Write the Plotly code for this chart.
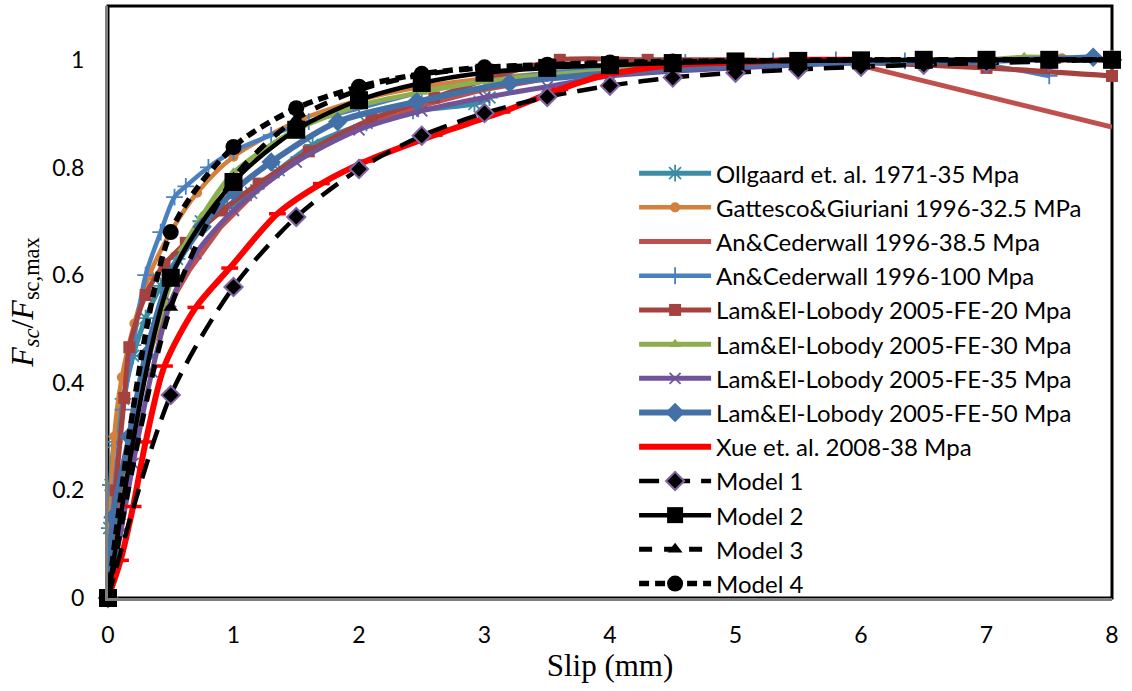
import plotly.graph_objects as go

# ---- experimental push-out curves: slip (mm) vs normalised shear force ----
ollgaard_s = [0, 0.01, 0.02, 0.05, 0.12, 0.2, 0.3, 0.42, 0.55, 0.74, 0.95, 1.14, 1.36, 1.63, 2.06, 2.43, 2.92, 3.04]
ollgaard_v = [0, 0.13, 0.21, 0.29, 0.37, 0.45, 0.52, 0.58, 0.63, 0.70, 0.725, 0.753, 0.795, 0.842, 0.883, 0.905, 0.918, 0.93]

gattesco_s = [0, 0.05, 0.11, 0.21, 0.33, 0.5, 0.71, 1.0, 1.5, 2.0, 2.5, 3.0, 3.5, 4.0, 5.0, 6.0, 7.0, 7.6, 8.0]
gattesco_v = [0, 0.30, 0.41, 0.51, 0.60, 0.68, 0.753, 0.82, 0.885, 0.925, 0.95, 0.965, 0.975, 0.985, 0.993, 0.997, 1.0, 1.003, 1.0]

an385_s = [0, 0.1, 0.2, 0.35, 0.5, 0.65, 0.9, 1.2, 1.6, 2.0, 2.5, 3.0, 3.5, 4.0, 4.5, 5.0, 5.5, 5.85, 8.0]
an385_v = [0, 0.20, 0.35, 0.47, 0.55, 0.61, 0.69, 0.76, 0.83, 0.875, 0.915, 0.945, 0.965, 0.98, 0.99, 0.995, 0.998, 0.998, 0.875]

an100_s = [0, 0.05, 0.12, 0.2, 0.3, 0.42, 0.53, 0.62, 0.8, 1.0, 1.3, 1.6, 2.0, 2.5, 3.0, 3.5, 4.0, 4.6, 5.3, 5.8, 6.35, 7.0, 7.5]
an100_v = [0, 0.20, 0.35, 0.47, 0.60, 0.68, 0.745, 0.765, 0.80, 0.83, 0.86, 0.885, 0.91, 0.94, 0.96, 0.975, 0.985, 0.995, 0.998, 1.0, 0.998, 0.99, 0.97]

lam20_s = [0, 0.06, 0.13, 0.17, 0.3, 0.45, 0.62, 0.91, 1.2, 1.6, 2.1, 2.6, 3.1, 3.6, 4.3, 5.0, 6.0, 7.0, 8.0]
lam20_v = [0, 0.20, 0.372, 0.466, 0.563, 0.62, 0.66, 0.72, 0.77, 0.83, 0.89, 0.93, 0.97, 1.0, 1.0, 1.0, 0.995, 0.985, 0.97]

lam30_s = [0, 0.1, 0.2, 0.3, 0.45, 0.6, 0.75, 1.0, 1.5, 2.0, 2.5, 3.0, 4.0, 5.0, 6.0, 7.0, 7.3, 8.0]
lam30_v = [0, 0.15, 0.30, 0.42, 0.55, 0.65, 0.71, 0.79, 0.87, 0.915, 0.94, 0.96, 0.98, 0.99, 0.995, 1.0, 1.005, 1.0]

lam35_s = [0, 0.1, 0.2, 0.35, 0.5, 0.7, 1.0, 1.5, 2.0, 2.5, 3.0, 3.5, 4.0, 5.0, 6.0, 7.0, 8.0]
lam35_v = [0, 0.12, 0.25, 0.42, 0.55, 0.64, 0.72, 0.81, 0.87, 0.905, 0.93, 0.95, 0.97, 0.985, 0.995, 1.0, 1.0]

lam50_s = [0, 0.04, 0.17, 0.3, 0.5, 0.75, 1.0, 1.3, 1.83, 2.46, 3.2, 4.0, 5.0, 6.0, 7.0, 7.85]
lam50_v = [0, 0.15, 0.30, 0.45, 0.60, 0.69, 0.755, 0.81, 0.885, 0.922, 0.957, 0.975, 0.99, 0.995, 0.998, 1.005]

xue_s = [0, 0.1, 0.2, 0.3, 0.45, 0.7, 0.97, 1.35, 1.7, 2.06, 2.6, 3.14, 3.6, 3.93, 4.5, 5.0, 5.5, 6.0]
xue_v = [0, 0.07, 0.17, 0.29, 0.431, 0.54, 0.613, 0.714, 0.77, 0.812, 0.86, 0.903, 0.945, 0.97, 0.99, 0.995, 1.0, 1.0]
xue_marked = [True, False, False, False, True, False, True, True, False, True, False, True, False, True, False, False, False, False]

# ---- model predictions, evaluated every 0.5 mm ----
model_s = [0, 0.5, 1.0, 1.5, 2.0, 2.5, 3.0, 3.5, 4.0, 4.5, 5.0, 5.5, 6.0, 6.5, 7.0, 7.5, 8.0]
model1_v = [0, 0.377, 0.578, 0.708, 0.797, 0.859, 0.901, 0.931, 0.952, 0.967, 0.976, 0.982, 0.987, 0.991, 0.994, 0.997, 1.0]
model2_v = [0, 0.595, 0.773, 0.870, 0.925, 0.957, 0.976, 0.985, 0.990, 0.994, 0.997, 0.998, 0.999, 1.0, 1.0, 1.0, 1.0]
model3_v = [0, 0.540, 0.780, 0.890, 0.944, 0.972, 0.985, 0.990, 0.994, 0.996, 0.998, 0.999, 1.0, 1.0, 1.0, 1.0, 1.0]
model4_v = [0, 0.680, 0.838, 0.910, 0.950, 0.974, 0.986, 0.991, 0.995, 0.997, 0.998, 0.999, 1.0, 1.0, 1.0, 1.0, 1.0]

x_ticks = [0, 1, 2, 3, 4, 5, 6, 7, 8]
y_ticks = [0, 0.2, 0.4, 0.6, 0.8, 1]
y_tick_text = ["0", "0.2", "0.4", "0.6", "0.8", "1"]

fig = go.Figure()


def add_curve(name, xs, ys, color, width, symbol=None, msize=10, mfill=None,
              mline_color=None, mline_width=0, dash="solid", shape="spline"):
    marker = None
    mode = "lines"
    if symbol is not None:
        mode = "lines+markers"
        marker = dict(symbol=symbol, size=msize,
                      color=mfill if mfill is not None else color,
                      line=dict(color=mline_color if mline_color is not None else color,
                                width=mline_width))
    fig.add_trace(go.Scatter(
        x=xs, y=ys, name=name, mode=mode,
        line=dict(color=color, width=width, dash=dash, shape=shape, smoothing=0.8),
        marker=marker, cliponaxis=False,
    ))


add_curve("Ollgaard et. al. 1971-35 Mpa", ollgaard_s, ollgaard_v, "#3A8DA4", 5,
          symbol="asterisk-open", msize=14, mline_width=1.8)
add_curve("Gattesco&Giuriani 1996-32.5 MPa", gattesco_s, gattesco_v, "#D47F3A", 4.5,
          symbol="circle", msize=10)
add_curve("An&Cederwall 1996-38.5 Mpa", an385_s, an385_v, "#C0504D", 5, shape="linear")
add_curve("An&Cederwall 1996-100 Mpa", an100_s, an100_v, "#4A80C2", 4.5,
          symbol="cross-thin-open", msize=12, mline_width=1.8)
add_curve("Lam&El-Lobody 2005-FE-20 Mpa", lam20_s, lam20_v, "#A5423F", 5,
          symbol="square", msize=12)
add_curve("Lam&El-Lobody 2005-FE-30 Mpa", lam30_s, lam30_v, "#8DAE4F", 5,
          symbol="triangle-up", msize=11)
add_curve("Lam&El-Lobody 2005-FE-35 Mpa", lam35_s, lam35_v, "#6F549A", 5,
          symbol="x-thin-open", msize=11, mline_width=1.8)
add_curve("Lam&El-Lobody 2005-FE-50 Mpa", lam50_s, lam50_v, "#4470A8", 6,
          symbol="diamond", msize=15)

# Xue et al.: red curve, green dash markers only at the measured points
fig.add_trace(go.Scatter(
    x=xue_s, y=xue_v, name="Xue et. al. 2008-38 Mpa", mode="lines+markers",
    line=dict(color="#FF0000", width=6, shape="spline", smoothing=0.8),
    marker=dict(symbol="line-ew-open", size=12,
                line=dict(color=["#9BBB59" if m else "rgba(0,0,0,0)" for m in xue_marked],
                          width=3.5)),
    cliponaxis=False,
))

add_curve("Model 1", model_s, model1_v, "#000000", 4.5, symbol="diamond", msize=14,
          mfill="#000000", mline_color="#8064A2", mline_width=2, dash="20px,11px")
add_curve("Model 2", model_s, model2_v, "#000000", 4.5, symbol="square", msize=18)
add_curve("Model 3", model_s, model3_v, "#000000", 5, symbol="triangle-up", msize=13,
          dash="13px,12px")
add_curve("Model 4", model_s, model4_v, "#000000", 5.5, symbol="circle", msize=16,
          dash="10px,6px")

# plot-area frame
fig.add_shape(type="rect", xref="paper", yref="paper", x0=0, y0=0, x1=1, y1=1,
              line=dict(color="#000000", width=3), layer="below")

fig.update_layout(
    width=1132, height=691,
    margin=dict(l=108, r=20, t=6, b=93),
    paper_bgcolor="white", plot_bgcolor="white",
    showlegend=True,
    legend=dict(
        x=0.524, y=0.755, xanchor="left", yanchor="top",
        bgcolor="rgba(0,0,0,0)", borderwidth=0,
        font=dict(family="Lato", size=24, color="#000000"),
        itemwidth=72, traceorder="normal",
    ),
    xaxis=dict(
        range=[0, 8], tickvals=x_ticks, showgrid=False, zeroline=False,
        showline=True, linecolor="#7F7F7F", linewidth=3,
        ticks="", ticklabelstandoff=14,
        tickfont=dict(family="Lato", size=23, color="#000000"),
        title=dict(text="Slip (mm)", standoff=8,
                   font=dict(family="Liberation Serif", size=31, color="#000000")),
    ),
    yaxis=dict(
        range=[0, 1.1], tickvals=y_ticks, ticktext=y_tick_text, showgrid=False,
        zeroline=False, showline=True, linecolor="#7F7F7F", linewidth=3,
        ticks="", ticklabelstandoff=16,
        tickfont=dict(family="Lato", size=23, color="#000000"),
        title=dict(text="<i>F</i><sub><i>sc</i></sub>/<i>F</i><sub>sc,max</sub>", standoff=10,
                   font=dict(family="Liberation Serif", size=32, color="#000000")),
    ),
)

fig.write_html("out.html")
